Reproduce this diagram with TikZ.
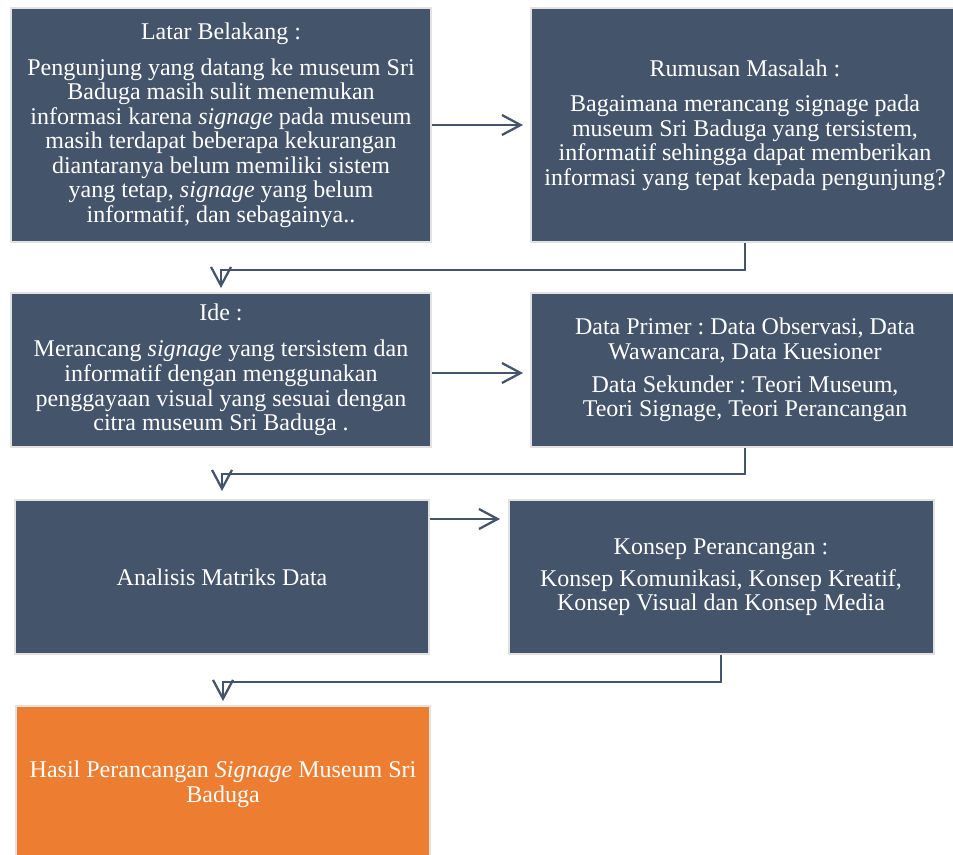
\documentclass[tikz,border=0pt]{standalone}
\usepackage{fontspec}
\setmainfont{Liberation Serif}
\usepackage{xcolor}
\usetikzlibrary{calc,arrows.meta,positioning}
\definecolor{slateA}{HTML}{44546A}
\definecolor{orangeA}{HTML}{ED7D31}
\definecolor{rimA}{HTML}{E2E2E2}
\frenchspacing

\begin{document}
\begin{tikzpicture}[x=0.75pt, y=0.75pt,
    box/.style={rectangle, fill=slateA, draw=rimA, line width=1.5pt, text=white,
      align=center, inner sep=0pt, font=\fontsize{18}{18.4}\selectfont},
    flow/.style={draw=slateA, line width=1.7pt, -{Straight Barb[length=14pt, width=15pt]}}]
  \useasboundingbox (0,0) rectangle (953,-854);

  % Top row
  \node[box, minimum width=315pt, minimum height=175.5pt] (latar) at (221,-125)
    {Latar Belakang :\\[8.6pt]
     Pengunjung yang datang ke museum Sri\\
     Baduga masih sulit menemukan\\
     informasi karena \textit{signage} pada museum\\
     masih terdapat beberapa kekurangan\\
     diantaranya belum memiliki sistem\\
     yang tetap, \textit{signage} yang belum\\
     informatif, dan sebagainya..};
  \node[box, minimum width=321pt, minimum height=175.5pt] (rumusan) at (745,-125)
    {Rumusan Masalah :\\[7.9pt]
     Bagaimana merancang signage pada\\
     museum Sri Baduga yang tersistem,\\
     informatif sehingga dapat memberikan\\
     informasi yang tepat kepada pengunjung?};

  % Second row
  \node[box, minimum width=315pt, minimum height=115.5pt] (ide) at (221,-370)
    {Ide :\\[8.6pt]
     Merancang \textit{signage} yang tersistem dan\\
     informatif dengan menggunakan\\
     penggayaan visual yang sesuai dengan\\
     citra museum Sri Baduga .};
  \node[box, minimum width=321pt, minimum height=115.5pt] (data) at (745,-370)
    {Data Primer : Data Observasi, Data\\
     Wawancara, Data Kuesioner\\[6.4pt]
     Data Sekunder : Teori Museum,\\
     Teori Signage, Teori Perancangan};

  % Third row
  \node[box, minimum width=310.5pt, minimum height=115.5pt] (analisis) at (222,-577)
    {Analisis Matriks Data};
  \node[box, minimum width=318.75pt, minimum height=115.5pt] (konsep) at (721,-577)
    {Konsep Perancangan :\\[5.6pt]
     Konsep Komunikasi, Konsep Kreatif,\\
     Konsep Visual dan Konsep Media};

  % Result
  \node[box, fill=orangeA, minimum width=311pt, minimum height=117pt] (hasil) at (223,-784)
    {Hasil Perancangan \textit{Signage} Museum Sri\\
     Baduga};

  % Connectors
  \draw[flow, shorten >=5.25pt] (latar.east) -- (rumusan.west);
  \draw[flow, shorten >=3pt] (rumusan.south) -- ++(0,-27) -| (ide.north);
  \draw[flow, shorten >=5.25pt] ([yshift=-2.25pt]ide.east) -- ([yshift=-2.25pt]data.west);
  \draw[flow, shorten >=6pt] (data.south) -- ++(0,-26) -| (analisis.north);
  \draw[flow, shorten >=5.6pt] ([yshift=-15pt]analisis.north east) -- ([yshift=-15pt]konsep.north west);
  \draw[flow, shorten >=3pt] (konsep.south) -- ++(0,-27) -| (hasil.north);
\end{tikzpicture}
\end{document}
